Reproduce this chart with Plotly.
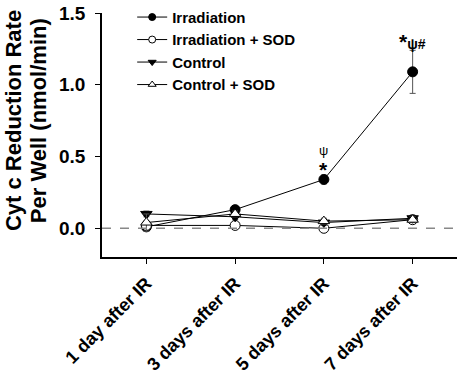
import plotly.graph_objects as go

categories = ["1 day after IR", "3 days after IR", "5 days after IR", "7 days after IR"]
irr = [0.01, 0.13, 0.34, 1.09]
irr_err = [0.02, 0.01, 0.03, 0.15]
irr_sod = [0.02, 0.02, 0.00, 0.06]
irr_sod_err = [0.03, 0.01, 0.02, 0.02]
ctrl = [0.10, 0.08, 0.04, 0.07]
ctrl_err = [0.02, 0.02, 0.02, 0.02]
ctrl_sod = [0.04, 0.10, 0.05, 0.06]
ctrl_sod_err = [0.06, 0.02, 0.02, 0.02]
title_lines = ["Cyt c Reduction Rate", "Per Well (nmol/min)"]

font = "Arial, Liberation Sans, sans-serif"
fig = go.Figure()

def add(name, y, err, symbol, color_fill):
    fig.add_trace(go.Scatter(
        x=categories, y=y, name=f"<b>{name}</b>", mode="lines+markers",
        line=dict(color="black", width=1), showlegend=False, legendgroup=name,
        marker=dict(symbol=symbol, size=10, color=color_fill, line=dict(color="black", width=1)),
        error_y=dict(type="data", array=err, color="#555", thickness=1, width=3),
    ))
    # legend entry with smaller marker, as in the reference
    fig.add_trace(go.Scatter(
        x=[None], y=[None], name=f"<b>{name}</b>", mode="lines+markers",
        line=dict(color="black", width=1), legendgroup=name,
        marker=dict(symbol=symbol, size=7, color=color_fill, line=dict(color="black", width=1)),
    ))

add("Irradiation", irr, irr_err, "circle", "black")
add("Irradiation + SOD", irr_sod, irr_sod_err, "circle", "white")
add("Control", ctrl, ctrl_err, "triangle-down", "black")
add("Control + SOD", ctrl_sod, ctrl_sod_err, "triangle-up", "white")

fig.add_hline(y=0, line=dict(color="#888", width=1.5, dash="dash"))

fig.add_annotation(x=categories[2], y=0.41, text="<b>*</b>", showarrow=False,
                   font=dict(size=21, family=font, color="black"), yanchor="middle")
fig.add_annotation(x=categories[2], y=0.54, text="ψ", showarrow=False,
                   font=dict(size=13, family=font, color="black"), yanchor="middle")
fig.add_annotation(x=categories[3], y=1.30,
                   text="<b><span style='font-size:21px'>*</span>ψ#</b>", showarrow=False,
                   font=dict(size=14, family=font, color="black"), yanchor="middle")

# y-axis title placed as rotated text, two lines
for xp, line in zip([-0.2507, -0.180], title_lines):
    fig.add_annotation(xref="paper", yref="paper", x=xp, y=0.557, text=f"<b>{line}</b>",
                       textangle=-90, showarrow=False, xanchor="center", yanchor="middle",
                       font=dict(size=22, family=font, color="black"))

fig.update_layout(
    width=459, height=372,
    margin=dict(l=102, r=2, t=13, b=115, autoexpand=False),
    plot_bgcolor="white", paper_bgcolor="white",
    font=dict(family=font, color="black"),
    showlegend=True,
    legend=dict(x=0.085, y=1.05, xanchor="left", yanchor="top", bgcolor="rgba(0,0,0,0)",
                font=dict(size=15, family=font, color="black"), tracegroupgap=0),
    xaxis=dict(range=[-0.5, 3.5], showline=True, linecolor="black", linewidth=1.5,
               ticks="outside", ticklen=5, tickcolor="black", tickangle=-45,
               tickvals=categories, ticktext=[f"<b>{c}</b>" for c in categories],
               tickfont=dict(size=18, family=font, color="black"), showgrid=False,
               zeroline=False, automargin=False, ticklabelstandoff=2),
    yaxis=dict(range=[-0.2, 1.5], showline=True, linecolor="black", linewidth=1.5,
               ticks="outside", ticklen=5, tickcolor="black", tickvals=[0, 0.5, 1.0, 1.5],
               ticktext=["<b>0.0</b>", "<b>0.5</b>", "<b>1.0</b>", "<b>1.5</b>"],
               tickfont=dict(size=19, family=font, color="black"), showgrid=False,
               zeroline=False, automargin=False, ticklabelstandoff=6),
)

fig.write_html("out.html", config={"displayModeBar": False},
               post_script="document.body.style.margin='0';document.body.style.padding='0';")
